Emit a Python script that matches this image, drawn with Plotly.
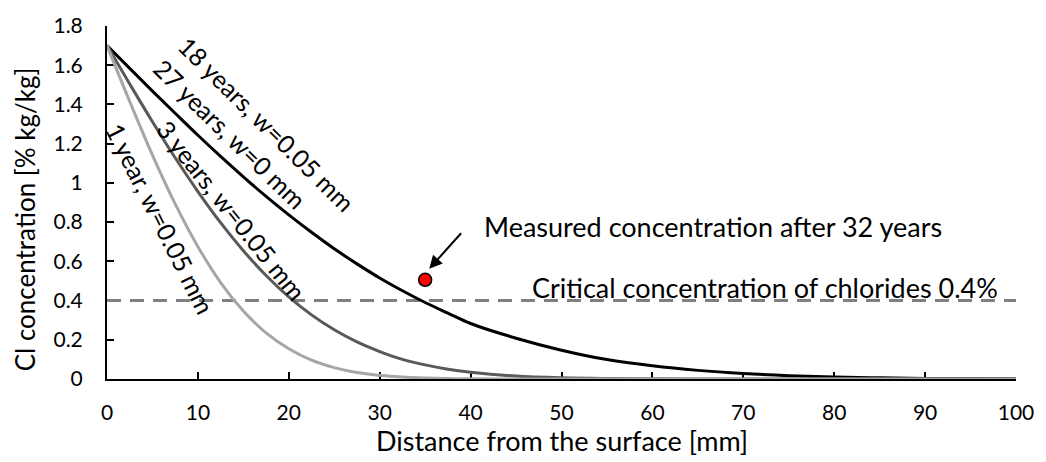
import plotly.graph_objects as go

# distance from surface [mm]
depth = [0, 2.5, 5, 7.5, 10, 12.5, 15, 17.5, 20, 22.5, 25, 27.5, 30, 32.5, 35, 37.5, 40,
         45, 50, 55, 60, 65, 70, 75, 80, 85, 90, 95, 100]

# Cl concentration [% kg/kg]
c_18y = [1.70, 1.584, 1.468, 1.355, 1.243, 1.135, 1.031, 0.931, 0.837, 0.748, 0.664, 0.587,
         0.515, 0.450, 0.390, 0.336, 0.283, 0.208, 0.147, 0.099, 0.067, 0.044, 0.028, 0.017,
         0.010, 0.006, 0.003, 0.002, 0.001]
c_3y = [1.70, 1.504, 1.312, 1.128, 0.956, 0.797, 0.654, 0.528, 0.419, 0.327, 0.251, 0.189,
        0.140, 0.100, 0.072, 0.050, 0.035, 0.015, 0.006, 0.0024, 0.001, 0.0003, 0.0, 0.0,
        0.0, 0.0, 0.0, 0.0, 0.0]
c_1y = [1.70, 1.415, 1.142, 0.893, 0.675, 0.492, 0.347, 0.235, 0.154, 0.096, 0.058, 0.033,
        0.019, 0.010, 0.005, 0.002, 0.001, 0.0, 0.0, 0.0, 0.0, 0.0, 0.0, 0.0,
        0.0, 0.0, 0.0, 0.0, 0.0]

critical_x = [0, 100]
critical_y = [0.4, 0.4]

measured_x = [35]
measured_y = [0.506]

x_ticks = [0, 10, 20, 30, 40, 50, 60, 70, 80, 90, 100]
y_ticks = [0, 0.2, 0.4, 0.6, 0.8, 1.0, 1.2, 1.4, 1.6, 1.8]
y_tick_text = ["0", "0.2", "0.4", "0.6", "0.8", "1", "1.2", "1.4", "1.6", "1.8"]

FONT = "Lato"

fig = go.Figure()
fig.add_trace(go.Scatter(x=critical_x, y=critical_y, mode="lines",
                         line=dict(color="#808080", width=3, dash="14px,9px"),
                         showlegend=False, hoverinfo="skip"))
fig.add_trace(go.Scatter(x=depth, y=c_18y, mode="lines", line_shape="spline",
                         line=dict(color="#000000", width=3), showlegend=False))
fig.add_trace(go.Scatter(x=depth, y=c_3y, mode="lines", line_shape="spline",
                         line=dict(color="#595959", width=3), showlegend=False))
fig.add_trace(go.Scatter(x=depth, y=c_1y, mode="lines", line_shape="spline",
                         line=dict(color="#a6a6a6", width=3), showlegend=False))
fig.add_trace(go.Scatter(x=measured_x, y=measured_y, mode="markers",
                         marker=dict(color="#ff0000", size=13,
                                     line=dict(color="#000000", width=1.5)),
                         showlegend=False))

ann_font = dict(family=FONT, size=27, color="#000000")
lab_font = dict(family=FONT, size=25, color="#000000")
xt_font = dict(family=FONT, size=27, color="#000000")
yt_font = dict(family=FONT, size=26, color="#000000")

annotations = [
    dict(x=17.6, y=1.30, text="18 years, w=0.05 mm", textangle=44.7, showarrow=False,
         font=lab_font, xref="x", yref="y"),
    dict(x=13.6, y=1.25, text="27 years, w=0 mm", textangle=44.3, showarrow=False,
         font=lab_font, xref="x", yref="y"),
    dict(x=13.7, y=0.86, text="3 years, w=0.05 mm", textangle=51.4, showarrow=False,
         font=lab_font, xref="x", yref="y"),
    dict(x=5.85, y=0.82, text="1 year, w=0.05 mm", textangle=63.4, showarrow=False,
         font=lab_font, xref="x", yref="y"),
    dict(x=41.3, y=0.78, text="Measured concentration after 32 years", showarrow=False,
         xanchor="left", yanchor="middle", font=ann_font, xref="x", yref="y"),
    dict(x=98.2, y=0.468, text="Critical concentration of chlorides 0.4%", showarrow=False,
         xanchor="right", yanchor="middle", font=ann_font, xref="x", yref="y"),
    dict(x=35.45, y=0.562, ax=39.1, ay=0.751, axref="x", ayref="y", xref="x", yref="y",
         text="", showarrow=True, arrowhead=2, arrowsize=1.3, arrowwidth=2,
         arrowcolor="#000000"),
    dict(x=0.5, y=-0.174, xref="paper", yref="paper", text="Distance from the surface [mm]",
         showarrow=False, xanchor="center", yanchor="middle", font=xt_font),
    dict(x=-0.09, y=0.453, xref="paper", yref="paper", text="Cl concentration [% kg/kg]",
         showarrow=False, xanchor="center", yanchor="middle", textangle=-90, font=yt_font),
]

fig.update_layout(
    width=1046, height=462,
    margin=dict(l=107, r=28, t=17, b=83),
    paper_bgcolor="white", plot_bgcolor="white",
    annotations=annotations,
    font=dict(family=FONT, color="#000000"),
)
fig.update_xaxes(range=[0, 100], tickvals=x_ticks, ticks="inside", ticklen=7, tickwidth=1.5,
                 tickcolor="#000000", showline=True, linecolor="#000000", linewidth=2,
                 showgrid=False, zeroline=False, layer="below traces",
                 tickfont=dict(family=FONT, size=21, color="#000000"), ticklabelstandoff=14)
fig.update_yaxes(range=[0, 1.8], tickvals=y_ticks, ticktext=y_tick_text, ticks="inside",
                 ticklen=7, tickwidth=1.5, tickcolor="#000000", showline=True,
                 linecolor="#000000", linewidth=2, showgrid=False, zeroline=False,
                 layer="below traces",
                 tickfont=dict(family=FONT, size=21, color="#000000"), ticklabelstandoff=18)

fig.write_html("out.html", config={"displayModeBar": False},
               post_script="document.body.style.margin='0px';document.body.style.overflow='hidden';")
